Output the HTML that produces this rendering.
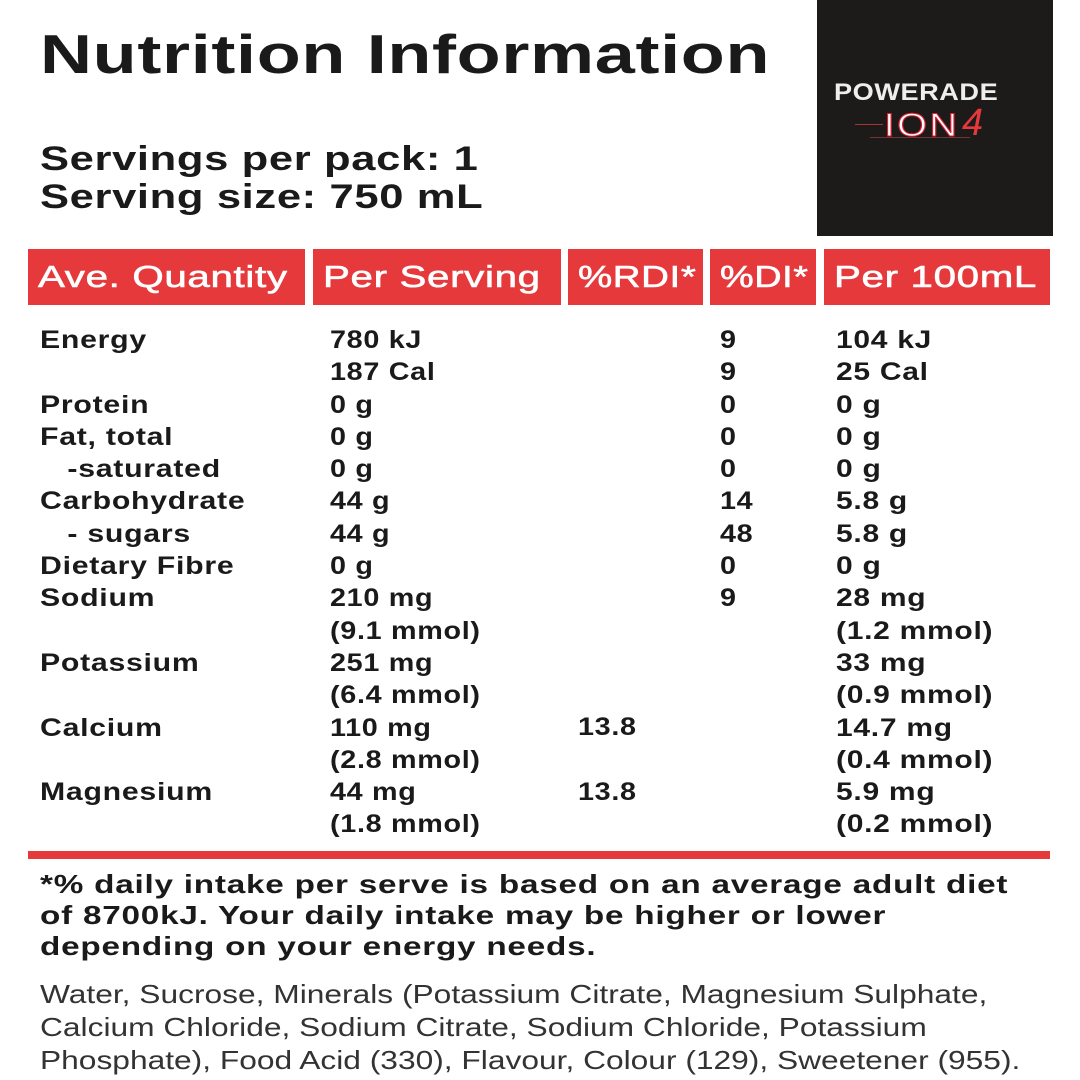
<!DOCTYPE html>
<html><head><style>
body{margin:0;width:1080px;height:1080px;background:#fff;position:relative;font-family:"Liberation Sans",sans-serif;color:#1a1a1a;overflow:hidden}
.a{position:absolute;white-space:nowrap;transform-origin:0 0}
.t{font-weight:bold;font-size:25px;letter-spacing:0.6px}
.h{position:absolute;top:249px;height:56px;background:#e5393c;box-sizing:border-box}
.h span{position:absolute;left:10px;top:0;color:#fff;font-size:31px;line-height:56px;letter-spacing:0.5px;transform:scaleX(1.3);transform-origin:0 0;white-space:nowrap;-webkit-text-stroke:0.6px #fff}
</style></head><body>
<div class="a" style="left:40px;top:22px;font-size:55px;font-weight:bold;letter-spacing:0.5px;transform:scaleX(1.31)">Nutrition Information</div>
<div class="a" style="left:40px;top:140px;font-size:34px;font-weight:bold;line-height:38px;letter-spacing:0.5px;transform:scaleX(1.28)">Servings per pack: 1<br>Serving size: 750 mL</div>
<div class="a" style="left:817px;top:0;width:236px;height:236px;background:#1d1a1a"></div>
<div class="a" style="left:834px;top:79px;color:#eee;font-size:24px;font-weight:bold;letter-spacing:0.5px;transform:scaleX(1.13)">POWERADE</div>
<div class="a" style="left:884px;top:107px;color:#fff;font-size:32px;letter-spacing:2px;-webkit-text-stroke:1px #d23;transform:scaleX(1.2)">ION</div>
<div class="a" style="left:962px;top:102px;color:#e5393c;font-size:38px;font-style:italic">4</div>
<div class="a" style="left:855px;top:124px;width:28px;height:1px;background:#a33"></div>
<div class="a" style="left:870px;top:137px;width:100px;height:1px;background:#733"></div>
<div class="h" style="left:28px;width:277px"><span>Ave. Quantity</span></div>
<div class="h" style="left:313px;width:248px"><span>Per Serving</span></div>
<div class="h" style="left:568px;width:135px"><span style="transform:scaleX(1.24)">%RDI*</span></div>
<div class="h" style="left:710px;width:106px"><span style="transform:scaleX(1.22)">%DI*</span></div>
<div class="h" style="left:824px;width:226px"><span>Per 100mL</span></div>
<div class="a t" style="left:40px;top:324px;line-height:32.3px;transform:scaleX(1.21)">Energy<br><br>Protein<br>Fat, total<br>&nbsp;&nbsp;&nbsp;-saturated<br>Carbohydrate<br>&nbsp;&nbsp;&nbsp;- sugars<br>Dietary Fibre<br>Sodium<br><br>Potassium<br><br>Calcium<br><br>Magnesium</div>
<div class="a t" style="left:330px;top:324px;line-height:32.3px;transform:scaleX(1.15)">780 kJ<br>187 Cal<br>0 g<br>0 g<br>0 g<br>44 g<br>44 g<br>0 g<br>210 mg<br>(9.1 mmol)<br>251 mg<br>(6.4 mmol)<br>110 mg<br>(2.8 mmol)<br>44 mg<br>(1.8 mmol)</div>
<div class="a t" style="left:578px;top:711px;line-height:32.3px;transform:scaleX(1.15)">13.8<br><br>13.8</div>
<div class="a t" style="left:720px;top:324px;line-height:32.3px;transform:scaleX(1.15)">9<br>9<br>0<br>0<br>0<br>14<br>48<br>0<br>9</div>
<div class="a t" style="left:836px;top:324px;line-height:32.3px;transform:scaleX(1.2)">104 kJ<br>25 Cal<br>0 g<br>0 g<br>0 g<br>5.8 g<br>5.8 g<br>0 g<br>28 mg<br>(1.2 mmol)<br>33 mg<br>(0.9 mmol)<br>14.7 mg<br>(0.4 mmol)<br>5.9 mg<br>(0.2 mmol)</div>
<div class="a" style="left:28px;top:851px;width:1022px;height:8px;background:#e5393c"></div>
<div class="a t" style="left:40px;top:869px;line-height:31px;font-size:26px;transform:scaleX(1.28)">*% daily intake per serve is based on an average adult diet<br>of 8700kJ. Your daily intake may be higher or lower<br>depending on your energy needs.</div>
<div class="a" style="left:40px;top:978px;line-height:33px;font-size:26px;color:#333;transform:scaleX(1.22)">Water, Sucrose, Minerals (Potassium Citrate, Magnesium Sulphate,<br>Calcium Chloride, Sodium Citrate, Sodium Chloride, Potassium<br>Phosphate), Food Acid (330), Flavour, Colour (129), Sweetener (955).</div>
</body></html>
